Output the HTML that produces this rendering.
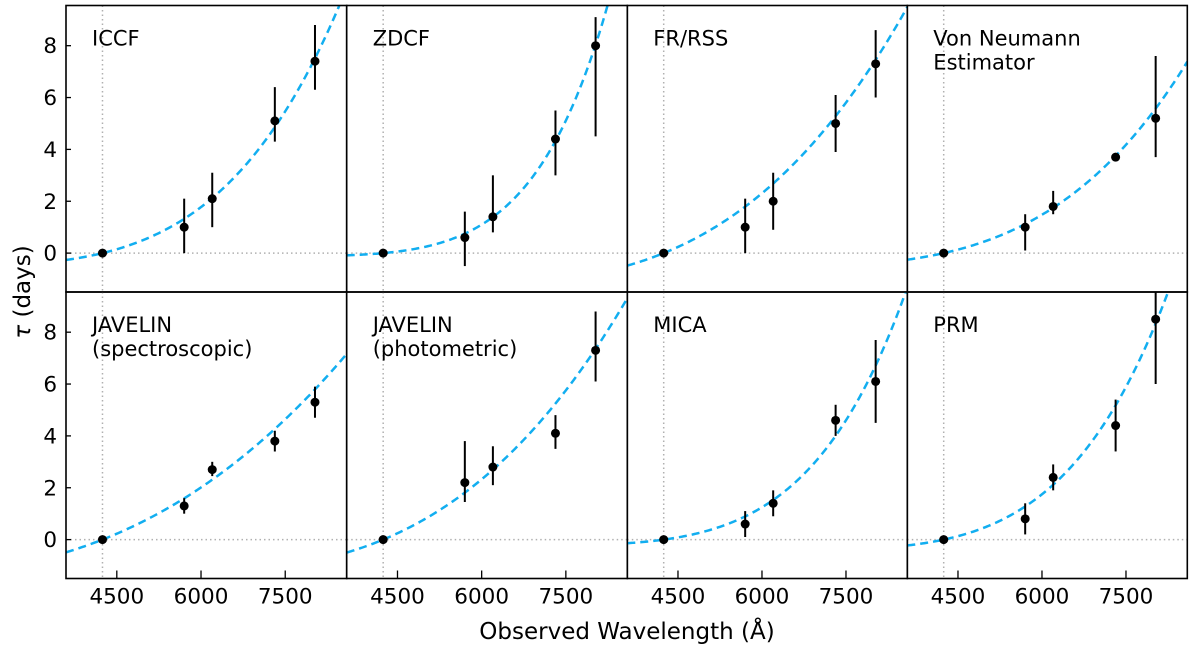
<!DOCTYPE html>
<html><head><meta charset="utf-8"><style>
html,body{margin:0;padding:0;background:#fff;}
svg{display:block;font-family:"DejaVu Sans","Liberation Sans",sans-serif;}
</style></head><body>
<svg id="chart" width="1200" height="651" viewBox="0 0 1200 651" xmlns="http://www.w3.org/2000/svg"></svg>
<script>
const panelTitles = [["ICCF"],["ZDCF"],["FR/RSS"],["Von Neumann","Estimator"],["JAVELIN","(spectroscopic)"],["JAVELIN","(photometric)"],["MICA"],["PRM"]];
const wavelengths = [4245, 5700, 6200, 7315, 8030];
const lagValues = [
 [0,1.0,2.1,5.1,7.4],[0,0.6,1.4,4.4,8.0],[0,1.0,2.0,5.0,7.3],[0,1.0,1.8,3.7,5.2],
 [0,1.3,2.7,3.8,5.3],[0,2.2,2.8,4.1,7.3],[0,0.6,1.4,4.6,6.1],[0,0.8,2.4,4.4,8.5]];
const lagUpper = [
 [0,2.1,3.1,6.4,8.8],[0,1.6,3.0,5.5,9.1],[0,2.1,3.1,6.1,8.6],[0,1.5,2.4,3.85,7.6],
 [0,1.6,3.0,4.2,5.9],[0,3.8,3.6,4.8,8.8],[0,1.1,1.9,5.2,7.7],[0,1.4,2.9,5.4,9.7]];
const lagLower = [
 [0,0,1.0,4.3,6.3],[0,-0.5,0.8,3.0,4.5],[0,0,0.9,3.9,6.0],[0,0.1,1.5,3.55,3.7],
 [0,1.0,2.45,3.4,4.7],[0,1.45,2.1,3.5,6.1],[0,0.1,0.9,4.0,4.5],[0,0.2,1.9,3.4,6.0]];
const fitAmp = [0.518,0.1296,1.2,0.543,1.42,1.275,0.237,0.41];
const fitBeta = [4.3,6.5,3.1,3.8,2.55,3.0,5.3,4.8];
const fitRef = 4245;
const xTicks = [4500,6000,7500];
const yTicks = [0,2,4,6,8];

const NS="http://www.w3.org/2000/svg";
const svg=document.getElementById('chart');
const XMIN=3595,XMAX=8595,YMIN=-1.5,YMAX=9.55;
const colL=[66,346.7,627.3,907.3], colW=[280.7,280.6,280,280];
const rowT=[5.5,292], rowH=286.5;
function mk(t,a,p){const e=document.createElementNS(NS,t);for(const k in a)e.setAttribute(k,a[k]);(p||svg).appendChild(e);return e;}
const defs=mk('defs',{});
for(let i=0;i<8;i++){
  const c=i%4,r=Math.floor(i/4);
  const L=colL[c],W=colW[c],T=rowT[r],H=rowH;
  const sx=v=>L+(v-XMIN)/(XMAX-XMIN)*W;
  const sy=v=>T+(YMAX-v)/(YMAX-YMIN)*H;
  const cp=mk('clipPath',{id:'cp'+i},defs);
  mk('rect',{x:L,y:T,width:W,height:H},cp);
  const g=mk('g',{'clip-path':'url(#cp'+i+')'});
  
  
  const hz=mk('line',{x1:L,x2:L+W,y1:sy(0),y2:sy(0),stroke:'#b0b0b0','stroke-width':1.5,'stroke-dasharray':'1.5,3'},g);
  
  
  const vt=mk('line',{x1:sx(fitRef),x2:sx(fitRef),y1:T,y2:T+H,stroke:'#b0b0b0','stroke-width':1.5,'stroke-dasharray':'1.5,3'},g);
  
  
  let d='';
  for(let k=0;k<=200;k++){const lam=XMIN+(XMAX-XMIN)*k/200;const tau=fitAmp[i]*(Math.pow(lam/fitRef,fitBeta[i])-1);
    const yy=Math.max(-50,Math.min(700,sy(tau)));d+=(k?'L':'M')+sx(lam).toFixed(2)+','+yy.toFixed(2);}
  const fit=mk('path',{d:d,fill:'none',stroke:'#12aef0','stroke-width':2.5,'stroke-dasharray':'8,5'},g);
  
  
  for(let j=0;j<wavelengths.length;j++){
    if(lagUpper[i][j]!==lagLower[i][j]){
      const eb=mk('line',{x1:sx(wavelengths[j]),x2:sx(wavelengths[j]),y1:sy(lagUpper[i][j]),y2:sy(lagLower[i][j]),stroke:'#000','stroke-width':2},g);
      
      
    }
    const pt=mk('circle',{cx:sx(wavelengths[j]),cy:sy(lagValues[i][j]),r:4.5,fill:'#000'},g);
    
    
  }
  panelTitles[i].forEach((s,k)=>{
    const t=mk('text',{x:L+26,y:T+40+k*24,'font-size':21,fill:'#000'});
    t.textContent=s;
    
    
  });
  const fr=mk('rect',{x:L,y:T,width:W,height:H,fill:'none',stroke:'#000','stroke-width':1.6});
  
  
  if(c===0){
    yTicks.forEach(v=>{
      mk('line',{x1:L,x2:L+5,y1:sy(v),y2:sy(v),stroke:'#000','stroke-width':1.3});
      const t=mk('text',{x:L-9,y:sy(v)+7.5,'font-size':21.5,'text-anchor':'end',fill:'#000'});
      t.textContent=v;
      
      
    });
  }
  if(r===1){
    xTicks.forEach(v=>{
      mk('line',{x1:sx(v),x2:sx(v),y1:T+H,y2:T+H-8,stroke:'#000','stroke-width':1.3});
      const t=mk('text',{x:sx(v),y:T+H+25,'font-size':21.5,'text-anchor':'middle',fill:'#000'});
      t.textContent=v;
      
      
    });
  }
}
const yl=mk('text',{x:0,y:0,'font-size':23,'text-anchor':'middle',fill:'#000',transform:'translate(30,292) rotate(-90)'});
yl.innerHTML='<tspan font-style="italic">τ</tspan> (days)';


const xl=mk('text',{x:627,y:639,'font-size':23,'text-anchor':'middle',fill:'#000'});
xl.textContent='Observed Wavelength (Å)';


</script>
</body></html>
